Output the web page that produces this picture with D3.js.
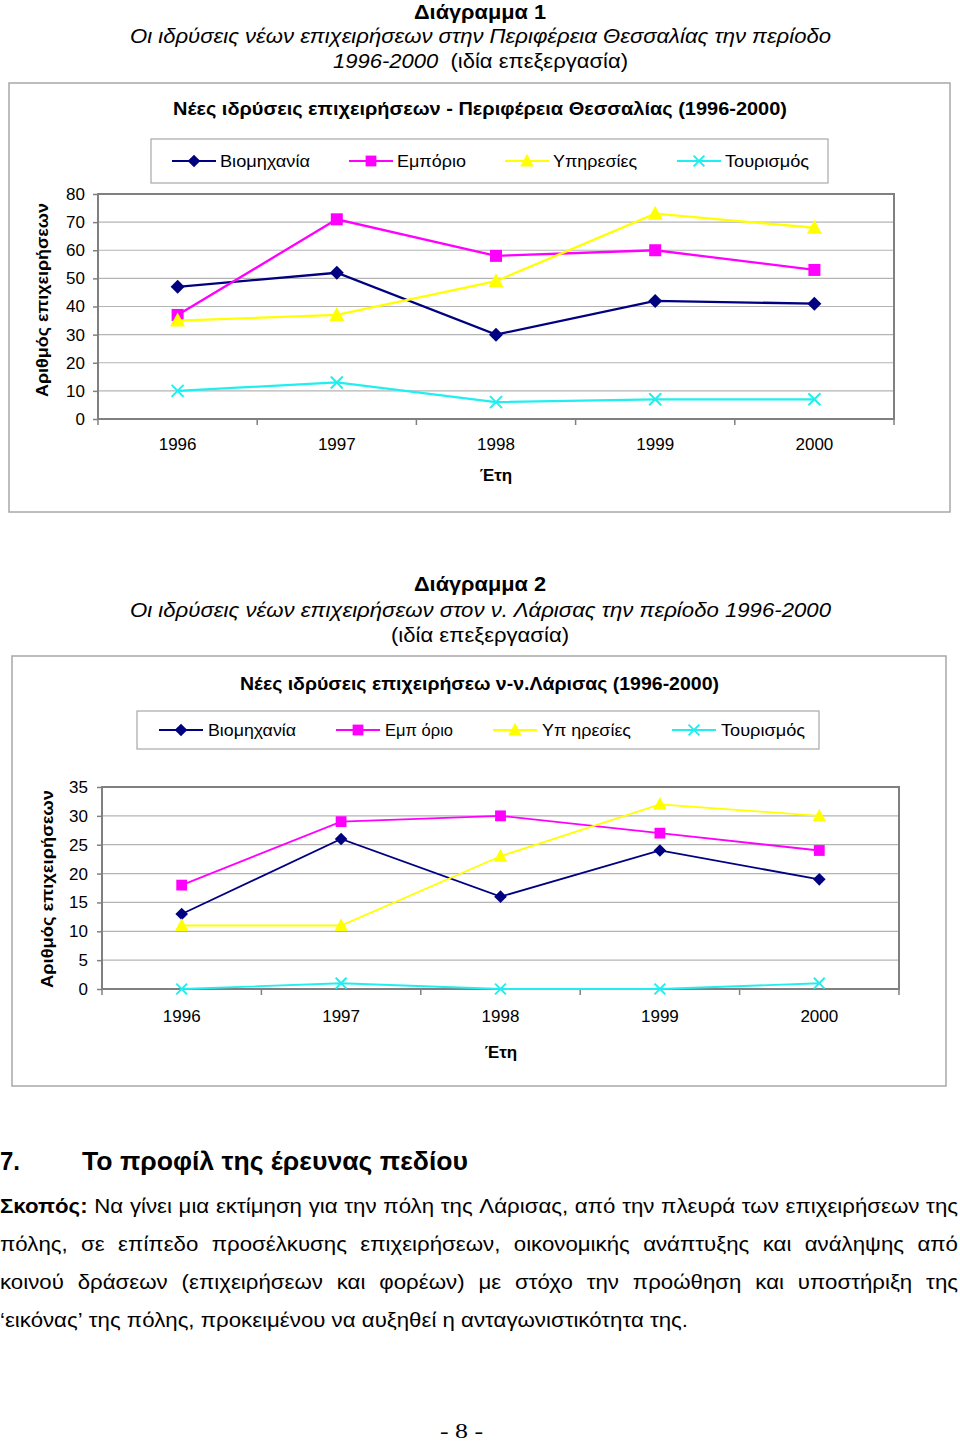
<!DOCTYPE html>
<html><head><meta charset="utf-8">
<script src="https://cdn.jsdelivr.net/npm/d3@7"></script>
<style>body{margin:0;background:#fff}svg{display:block}text{font-family:"Liberation Sans",Arial,sans-serif}</style>
</head><body>
<svg id="s" width="960" height="1445"></svg>
<script>
// ---------- DATA ----------
const years = ["1996","1997","1998","1999","2000"];
const seriesNames1 = ["Βιομηχανία","Εμπόριο","Υπηρεσίες","Τουρισμός"];
const seriesNames2 = ["Βιομηχανία","Εμπ όριο","Υπ ηρεσίες","Τουρισμός"];
// Chart 1: Περιφέρεια Θεσσαλίας
const thessIndustry = [47,52,30,42,41];
const thessTrade    = [37,71,58,60,53];
const thessServices = [35,37,49,73,68];
const thessTourism  = [10,13,6,7,7];
const yTicks1 = [0,10,20,30,40,50,60,70,80];
// Chart 2: ν. Λάρισας
const larIndustry = [13,26,16,24,19];
const larTrade    = [18,29,30,27,24];
const larServices = [11,11,23,32,30];
const larTourism  = [0,1,0,0,1];
const yTicks2 = [0,5,10,15,20,25,30,35];

const colors = ["#000080","#ff00ff","#ffff00","#20eef0"];
const shapes = ["diamond","square","triangle","x"];

const svg = d3.select("#s");

function txt(sel, o){
  const el = sel.append("text").attr("x",o.x).attr("y",o.y)
    .attr("font-size",o.size).attr("dominant-baseline","central")
    .attr("font-weight",o.bold?"bold":"normal")
    .attr("font-style",o.italic?"italic":"normal")
    .attr("fill","#000").text(o.t);
  if(o.family) el.style("font-family",o.family);
  if(o.w) el.attr("textLength",o.w).attr("lengthAdjust","spacingAndGlyphs");
  return el;
}

function marker(g, shape, cx, cy, color, k){
  const s = k||1;
  if(shape==="diamond"){
    g.append("path").attr("d",`M${cx},${cy-7*s}L${cx+7*s},${cy}L${cx},${cy+7*s}L${cx-7*s},${cy}Z`).attr("fill",color);
  } else if(shape==="square"){
    g.append("rect").attr("x",cx-6*s).attr("y",cy-6*s).attr("width",12*s).attr("height",12*s).attr("fill",color);
  } else if(shape==="triangle"){
    g.append("path").attr("d",`M${cx},${cy-8*s}L${cx+7.5*s},${cy+6*s}L${cx-7.5*s},${cy+6*s}Z`).attr("fill",color);
  } else {
    g.append("path").attr("d",`M${cx-6*s},${cy-6*s}L${cx+6*s},${cy+6*s}M${cx+6*s},${cy-6*s}L${cx-6*s},${cy+6*s}`)
      .attr("stroke",color).attr("stroke-width",2);
  }
}

function drawChart(cfg){
  const g = svg.append("g");
  g.append("rect").attr("x",cfg.frame[0]).attr("y",cfg.frame[1]).attr("width",cfg.frame[2]).attr("height",cfg.frame[3])
    .attr("fill","#fff").attr("stroke","#a8a8a8").attr("stroke-width",1.5);
  txt(g,{t:cfg.title,x:cfg.titleX,y:cfg.titleY,size:19,bold:true,w:cfg.titleW});
  // legend
  const L = cfg.legend;
  g.append("rect").attr("x",L.box[0]).attr("y",L.box[1]).attr("width",L.box[2]).attr("height",L.box[3])
    .attr("fill","#fff").attr("stroke","#a8a8a8").attr("stroke-width",1.2);
  cfg.names.forEach((n,i)=>{
    const cx=L.cx[i], cy=L.y;
    g.append("line").attr("x1",cx-22).attr("x2",cx+22).attr("y1",cy).attr("y2",cy).attr("stroke",colors[i]).attr("stroke-width",2);
    marker(g,shapes[i],cx,cy,colors[i],0.9);
    txt(g,{t:n,x:cx+L.dx,y:cy,size:17,w:L.w[i]});
  });
  const [pl,pt,pr,pb] = cfg.plot;
  const x = d3.scaleBand().domain(years).range([pl,pr]);
  const y = d3.scaleLinear().domain([0,cfg.max]).range([pb,pt]);
  // gridlines
  g.append("g").selectAll("line").data(cfg.ticks.filter(t=>t>0&&t<cfg.max)).join("line")
    .attr("x1",pl).attr("x2",pr).attr("y1",d=>y(d)).attr("y2",d=>y(d))
    .attr("stroke","#b4b4b4").attr("stroke-width",1.2);
  g.append("rect").attr("x",pl).attr("y",pt).attr("width",pr-pl).attr("height",pb-pt)
    .attr("fill","none").attr("stroke","#808080").attr("stroke-width",2);
  // y axis
  const ya = g.append("g").attr("transform",`translate(${pl},0)`)
    .call(d3.axisLeft(y).tickValues(cfg.ticks).tickSize(5).tickPadding(cfg.yPad).tickFormat(d3.format("d")));
  ya.select(".domain").remove();
  ya.selectAll("line").attr("stroke","#808080").attr("stroke-width",1.5);
  ya.selectAll("text").attr("font-size",17).style("font-family","Liberation Sans, Arial, sans-serif").attr("fill","#000");
  // x axis
  const xa = g.append("g").attr("transform",`translate(0,${pb})`)
    .call(d3.axisBottom(x).tickSize(0).tickPadding(cfg.xPad));
  xa.select(".domain").remove();
  xa.selectAll("text").attr("font-size",17).style("font-family","Liberation Sans, Arial, sans-serif").attr("fill","#000");
  const bounds = years.map(d=>x(d)).concat([pr]);
  g.append("g").selectAll("line").data(bounds).join("line")
    .attr("x1",d=>d).attr("x2",d=>d).attr("y1",pb).attr("y2",pb+6).attr("stroke","#808080").attr("stroke-width",1.5);
  // series
  const line = d3.line().x((d,i)=>x(years[i])+x.bandwidth()/2).y(d=>y(d));
  cfg.data.forEach((vals,si)=>{
    g.append("path").datum(vals).attr("d",line).attr("fill","none").attr("stroke",colors[si]).attr("stroke-width",cfg.lw);
    vals.forEach((v,i)=>marker(g,shapes[si],x(years[i])+x.bandwidth()/2,y(v),colors[si],cfg.mk));
  });
  // axis titles
  txt(g,{t:"Αριθμός επιχειρήσεων",x:0,y:0,size:17,bold:true,w:cfg.yLabW})
    .attr("text-anchor","middle").attr("transform",`translate(${cfg.yLabX},${cfg.yLabY}) rotate(-90)`);
  txt(g,{t:"Έτη",x:cfg.xLabX,y:cfg.xLabY,size:17,bold:true}).attr("text-anchor","middle");
}

// ---------- headings ----------
txt(svg,{t:"Διάγραμμα 1",x:414,y:12,size:20,bold:true,w:132});
txt(svg,{t:"Οι ιδρύσεις νέων επιχειρήσεων στην Περιφέρεια Θεσσαλίας την περίοδο",x:130,y:36,size:20,italic:true,w:701});
const l2 = svg.append("text").attr("x",333).attr("y",61).attr("font-size",20).attr("dominant-baseline","central")
  .attr("textLength",295).attr("lengthAdjust","spacingAndGlyphs");
l2.append("tspan").attr("font-style","italic").text("1996-2000");
l2.append("tspan").text("\u00a0 (ιδία επεξεργασία)");

drawChart({
  frame:[9,83,941,429], title:"Νέες ιδρύσεις επιχειρήσεων - Περιφέρεια Θεσσαλίας (1996-2000)",
  titleX:173,titleY:108,titleW:614,
  legend:{box:[151,139,677,44],y:161,cx:[194,371,527,699],dx:26,w:[90,69,84,84]},
  names:seriesNames1,
  plot:[98,194,894,419],max:80,ticks:yTicks1,yPad:8,xPad:19,
  data:[thessIndustry,thessTrade,thessServices,thessTourism],lw:2.3,mk:1,
  yLabX:42,yLabY:300,yLabW:194,xLabX:496,xLabY:475
});

txt(svg,{t:"Διάγραμμα 2",x:414,y:584,size:20,bold:true,w:132});
txt(svg,{t:"Οι ιδρύσεις νέων επιχειρήσεων στον ν. Λάρισας την περίοδο 1996-2000",x:130,y:610,size:20,italic:true,w:701});
txt(svg,{t:"(ιδία επεξεργασία)",x:391,y:635,size:20,w:178});

drawChart({
  frame:[12,656,934,430], title:"Νέες ιδρύσεις επιχειρήσεω ν-ν.Λάρισας (1996-2000)",
  titleX:240,titleY:683,titleW:479,
  legend:{box:[137,711,682,38],y:730,cx:[181,358,515,694],dx:27,w:[88,68,89,84]},
  names:seriesNames2,
  plot:[102,787,899,989],max:35,ticks:yTicks2,yPad:9,xPad:21,
  data:[larIndustry,larTrade,larServices,larTourism],lw:1.8,mk:0.9,
  yLabX:47,yLabY:889,yLabW:198,xLabX:501,xLabY:1052
});

// ---------- section text ----------
txt(svg,{t:"7.",x:0,y:1161,size:25,bold:true,w:20});
txt(svg,{t:"Το προφίλ της έρευνας πεδίου",x:82,y:1161,size:25,bold:true,w:386});

const bodyLines = [
  {words:[["Σκοπός:",true]].concat("Να γίνει μια εκτίμηση για την πόλη της Λάρισας, από την πλευρά των επιχειρήσεων της".split(" ").map(w=>[w,false])),y:1205,just:true},
  {words:"πόλης, σε επίπεδο προσέλκυσης επιχειρήσεων, οικονομικής ανάπτυξης και ανάληψης από".split(" ").map(w=>[w,false]),y:1243,just:true},
  {words:"κοινού δράσεων (επιχειρήσεων και φορέων) με στόχο την προώθηση και υποστήριξη της".split(" ").map(w=>[w,false]),y:1281,just:true},
  {words:"‘εικόνας’ της πόλης, προκειμένου να αυξηθεί η ανταγωνιστικότητα της.".split(" ").map(w=>[w,false]),y:1319,just:false}
];
const FS=21;
function measure(t,bold){
  const e = svg.append("text").attr("font-size",FS).attr("font-weight",bold?"bold":"normal").text(t);
  const w = e.node().getComputedTextLength(); e.remove(); return w;
}
const spaceW = measure("a a",false)-measure("aa",false);
const last = bodyLines[3];
const natLast = d3.sum(last.words,w=>measure(w[0],w[1])) + spaceW*(last.words.length-1);
const sc = 688/natLast;
bodyLines.forEach(L=>{
  const ws = L.words.map(w=>measure(w[0],w[1])*sc);
  const gap = L.just ? (958 - d3.sum(ws))/(ws.length-1) : spaceW*sc;
  let xx=0;
  L.words.forEach((w,i)=>{
    txt(svg,{t:w[0],x:xx,y:L.y,size:FS,bold:w[1],w:ws[i]});
    xx += ws[i]+gap;
  });
});

txt(svg,{t:"- 8 -",x:440,y:1430,size:22,w:43,family:"Liberation Serif, Times New Roman, serif"});
</script>
</body></html>
